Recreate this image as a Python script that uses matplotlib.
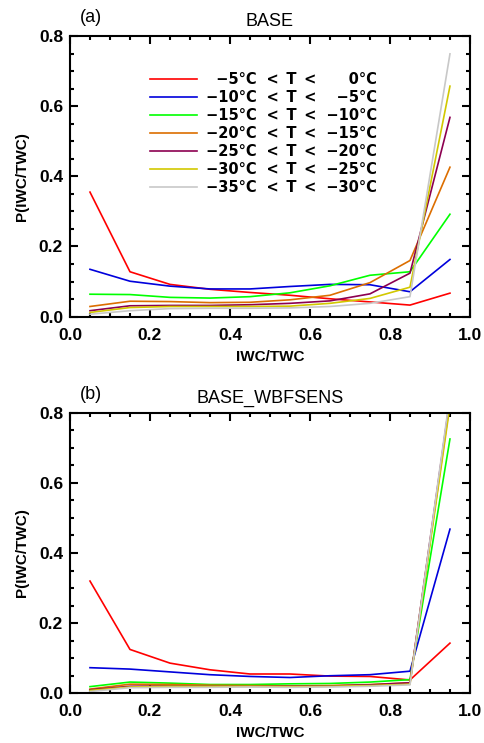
import numpy as np
import matplotlib
matplotlib.use('Agg')
import matplotlib.pyplot as plt
from matplotlib.ticker import MultipleLocator, FormatStrFormatter

plt.rcParams['font.family'] = ['Liberation Sans', 'DejaVu Sans']

# IWC/TWC bin centres
x_bins = [0.05, 0.15, 0.25, 0.35, 0.45, 0.55, 0.65, 0.75, 0.85, 0.95]

# temperature ranges (lower, upper) in degC
t_low = [-5, -10, -15, -20, -25, -30, -35]
t_high = [0, -5, -10, -15, -20, -25, -30]
colors = ['#ff0000', '#0000dc', '#00ff00', '#dc6e00', '#8c0050', '#d2c800', '#c8c8c8']

# (a) BASE
base = [
    [0.355, 0.128, 0.092, 0.078, 0.069, 0.061, 0.051, 0.042, 0.033, 0.067],
    [0.135, 0.101, 0.087, 0.079, 0.079, 0.086, 0.092, 0.091, 0.071, 0.163],
    [0.064, 0.063, 0.055, 0.053, 0.057, 0.068, 0.088, 0.118, 0.128, 0.292],
    [0.029, 0.044, 0.043, 0.040, 0.041, 0.048, 0.061, 0.097, 0.160, 0.426],
    [0.017, 0.031, 0.032, 0.032, 0.034, 0.038, 0.045, 0.065, 0.124, 0.568],
    [0.012, 0.026, 0.029, 0.029, 0.029, 0.030, 0.038, 0.052, 0.084, 0.657],
    [0.007, 0.017, 0.023, 0.024, 0.024, 0.025, 0.029, 0.038, 0.057, 0.749],
]

# (b) BASE_WBFSENS
wbfsens = [
    [0.320, 0.125, 0.086, 0.067, 0.055, 0.055, 0.049, 0.048, 0.038, 0.143],
    [0.073, 0.069, 0.061, 0.053, 0.048, 0.045, 0.050, 0.053, 0.063, 0.468],
    [0.019, 0.032, 0.029, 0.025, 0.025, 0.027, 0.028, 0.032, 0.039, 0.725],
    [0.012, 0.026, 0.025, 0.023, 0.022, 0.021, 0.022, 0.025, 0.030, 0.830],
    [0.010, 0.020, 0.021, 0.021, 0.020, 0.020, 0.021, 0.024, 0.030, 0.840],
    [0.008, 0.018, 0.020, 0.020, 0.020, 0.019, 0.020, 0.022, 0.026, 0.820],
    [0.005, 0.016, 0.017, 0.017, 0.018, 0.017, 0.018, 0.020, 0.024, 0.850],
]


def fmt_temp(v):
    # right-align to the width of "-10°C" using unicode spaces
    s = f'{abs(v)}°C'
    if v < 0:
        s = '\u2212' + s
    else:
        s = '\u2002\u2004' + s
    if abs(v) < 10:
        s = '\u2007' + s
    return s


labels = [f'{fmt_temp(lo)}\u2002\u2006<\u2006 T \u2006<\u2002\u2006{fmt_temp(hi)}'
          for lo, hi in zip(t_low, t_high)]


def style_axes(ax):
    ax.set_xlim(0, 1)
    ax.set_ylim(0, 0.8)
    ax.xaxis.set_major_locator(MultipleLocator(0.2))
    ax.xaxis.set_minor_locator(MultipleLocator(0.05))
    ax.yaxis.set_major_locator(MultipleLocator(0.2))
    ax.yaxis.set_minor_locator(MultipleLocator(0.05))
    ax.xaxis.set_major_formatter(FormatStrFormatter('%.1f'))
    ax.yaxis.set_major_formatter(FormatStrFormatter('%.1f'))
    ax.tick_params(which='both', direction='in', top=True, right=True, width=1.5)
    ax.tick_params(which='major', length=6, labelsize=12.5)
    ax.tick_params(which='minor', length=3)
    ax.tick_params(axis='x', pad=8)
    ax.tick_params(axis='y', pad=5)
    for lab in ax.get_xticklabels() + ax.get_yticklabels():
        lab.set_fontweight('bold')
    for sp in ax.spines.values():
        sp.set_linewidth(1.5)
    ax.set_xlabel('IWC/TWC', fontsize=11, fontweight='bold', labelpad=5)
    ax.set_ylabel('P(IWC/TWC)', fontsize=11, fontweight='bold', labelpad=7)


fig = plt.figure(figsize=(4.84, 7.43), dpi=100)
ax1 = fig.add_axes([0.1446, 0.5738, 0.8264, 0.3778])
ax2 = fig.add_axes([0.1446, 0.0669, 0.8264, 0.3777])

for ax, data, title, tag in [(ax1, base, 'BASE', '(a)'), (ax2, wbfsens, 'BASE_WBFSENS', '(b)')]:
    for vals, c, lab in zip(data, colors, labels):
        ax.plot(x_bins, vals, color=c, lw=1.2, label=lab)
    style_axes(ax)
    ax.set_title(title, fontsize=13, pad=7)
    ax.text(0.025, 1.065, tag, transform=ax.transAxes, fontsize=13, ha='left', va='center')

ax1.legend(loc='upper left', bbox_to_anchor=(0.2, 0.87), frameon=False,
           prop={'family': 'DejaVu Sans', 'weight': 'bold', 'size': 10.5},
           handlelength=3.2, handletextpad=0.65, labelspacing=0.2,
           borderpad=0, borderaxespad=0)

fig.savefig('out.png', dpi=100)
